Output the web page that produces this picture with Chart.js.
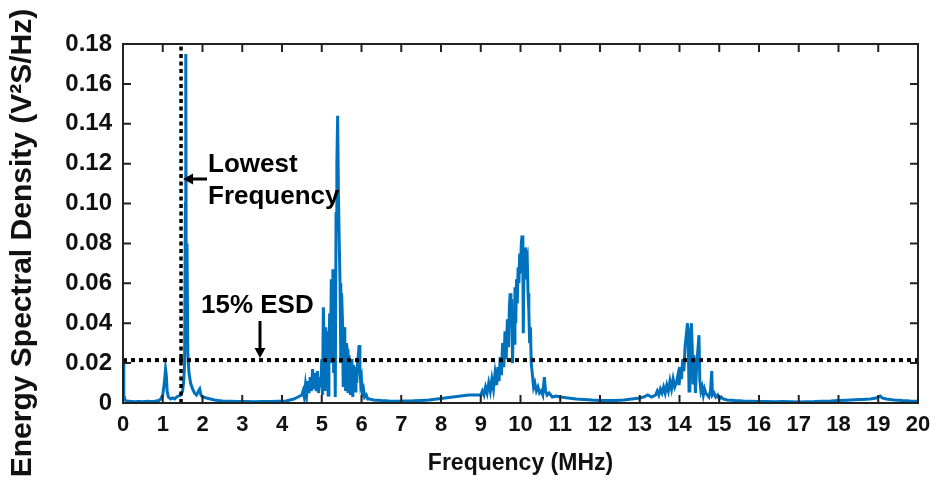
<!DOCTYPE html>
<html>
<head>
<meta charset="utf-8">
<script src="https://cdn.jsdelivr.net/npm/chart.js@4.4.1/dist/chart.umd.min.js"></script>
<style>
  html, body { margin: 0; padding: 0; background: #fff; }
  #wrap { width: 943px; height: 485px; position: relative; }
</style>
</head>
<body>
<div id="wrap"><canvas id="esdChart"></canvas></div>
<script>
// Spectrum, band by band: frequency (MHz) / ESD (V^2 s/Hz)
const lowBandFreq = [
  0.00, 0.02, 0.05, 0.10, 0.20, 0.30, 0.40, 0.50, 0.60, 0.70,
  0.80, 0.90, 0.95, 1.00, 1.04, 1.07, 1.09, 1.11, 1.14, 1.20,
  1.25, 1.30, 1.35, 1.40, 1.45, 1.50, 1.53, 1.55, 1.57, 1.58,
  1.59, 1.61, 1.63, 1.66, 1.70, 1.75, 1.80, 1.85, 1.90, 1.93,
  1.96, 2.00, 2.10, 2.20, 2.30, 2.40, 2.50, 2.70, 2.90, 3.10,
  3.30, 3.50, 3.70, 3.90, 4.10, 4.20, 4.30, 4.40
];
const lowBandEsd = [
  0.020, 0.004, 0.0015, 0.001, 0.0008, 0.0006, 0.0008, 0.0006, 0.0009, 0.0007,
  0.0009, 0.0012, 0.002, 0.004, 0.010, 0.017, 0.014, 0.006, 0.003, 0.002,
  0.0025, 0.002, 0.003, 0.0035, 0.004, 0.006, 0.012, 0.020, 0.100, 0.175,
  0.060, 0.080, 0.025, 0.015, 0.010, 0.007, 0.005, 0.004, 0.006, 0.007,
  0.004, 0.003, 0.0025, 0.002, 0.0015, 0.0012, 0.001, 0.0009, 0.0007, 0.0008,
  0.0006, 0.0008, 0.0007, 0.0009, 0.001, 0.0015, 0.002, 0.003
];
const band5Freq = [
  4.50, 4.53, 4.56, 4.59, 4.62, 4.65, 4.68, 4.71, 4.74, 4.77,
  4.80, 4.83, 4.86, 4.89, 4.92, 4.95, 4.98, 5.00, 5.02, 5.04,
  5.06, 5.08, 5.10, 5.12, 5.14, 5.16, 5.18, 5.20, 5.22, 5.24,
  5.26, 5.28, 5.30, 5.32, 5.34, 5.36, 5.38, 5.40, 5.42, 5.44,
  5.46, 5.48, 5.50, 5.52, 5.54, 5.56, 5.58, 5.60, 5.62, 5.64,
  5.66, 5.68, 5.70, 5.72, 5.74, 5.76, 5.78, 5.80, 5.82, 5.84,
  5.86, 5.88, 5.90, 5.92, 5.94, 5.96, 5.98, 6.00, 6.02, 6.05,
  6.08, 6.12, 6.16, 6.20
];
const band5Esd = [
  0.004, 0.006, 0.003, 0.009, 0.004, 0.011, 0.005, 0.013, 0.006, 0.017,
  0.007, 0.015, 0.006, 0.016, 0.005, 0.013, 0.008, 0.022, 0.004, 0.048,
  0.030, 0.006, 0.038, 0.010, 0.036, 0.004, 0.025, 0.045, 0.020, 0.062,
  0.040, 0.067, 0.015, 0.055, 0.003, 0.095, 0.120, 0.144, 0.105, 0.080,
  0.060, 0.020, 0.055, 0.042, 0.008, 0.038, 0.032, 0.006, 0.030, 0.027,
  0.005, 0.024, 0.020, 0.004, 0.022, 0.017, 0.003, 0.019, 0.014, 0.006,
  0.018, 0.010, 0.020, 0.024, 0.029, 0.018, 0.010, 0.012, 0.005, 0.007,
  0.003, 0.004, 0.002, 0.002
];
const midBandFreq = [6.30, 6.50, 6.70, 6.90, 7.10, 7.30, 7.50, 7.70, 7.90, 8.10, 8.30, 8.50, 8.70, 8.90];
const midBandEsd = [0.0015, 0.0012, 0.001, 0.0009, 0.001, 0.0011, 0.0013, 0.0015, 0.002, 0.0025, 0.003, 0.0035, 0.004, 0.004];
const band10Freq = [
  9.00, 9.04, 9.08, 9.12, 9.16, 9.20, 9.24, 9.28, 9.32, 9.36,
  9.40, 9.43, 9.46, 9.49, 9.52, 9.55, 9.58, 9.61, 9.64, 9.67,
  9.70, 9.72, 9.74, 9.76, 9.78, 9.80, 9.82, 9.84, 9.86, 9.88,
  9.90, 9.92, 9.94, 9.96, 9.98, 10.00, 10.02, 10.04, 10.06, 10.07,
  10.09, 10.11, 10.13, 10.15, 10.17, 10.19, 10.21, 10.23, 10.25, 10.27,
  10.30, 10.33, 10.36, 10.40, 10.44, 10.48, 10.52, 10.56, 10.60, 10.63,
  10.67, 10.72, 10.80
];
const band10Esd = [
  0.004, 0.006, 0.004, 0.008, 0.005, 0.010, 0.006, 0.012, 0.007, 0.015,
  0.009, 0.018, 0.011, 0.023, 0.014, 0.030, 0.018, 0.036, 0.022, 0.042,
  0.028, 0.048, 0.055, 0.040, 0.052, 0.020, 0.045, 0.030, 0.058, 0.040,
  0.062, 0.050, 0.068, 0.060, 0.075, 0.065, 0.080, 0.084, 0.070, 0.035,
  0.075, 0.062, 0.078, 0.070, 0.072, 0.055, 0.046, 0.030, 0.038, 0.020,
  0.014, 0.008, 0.010, 0.006, 0.008, 0.005, 0.006, 0.004, 0.013, 0.006,
  0.004, 0.005, 0.003
];
const gapBandFreq = [10.90, 11.00, 11.20, 11.40, 11.60, 11.80, 12.00, 12.20, 12.40, 12.60, 12.80, 13.00, 13.10, 13.20, 13.30];
const gapBandEsd = [0.0035, 0.003, 0.0025, 0.002, 0.0018, 0.0015, 0.0013, 0.0012, 0.0012, 0.0015, 0.002, 0.0025, 0.003, 0.004, 0.003];
const band14Freq = [
  13.40, 13.44, 13.48, 13.52, 13.56, 13.60, 13.64, 13.68, 13.72, 13.76,
  13.80, 13.84, 13.88, 13.92, 13.96, 13.99, 14.02, 14.05, 14.08, 14.11,
  14.14, 14.17, 14.20, 14.22, 14.24, 14.26, 14.28, 14.30, 14.32, 14.34,
  14.36, 14.38, 14.40, 14.43, 14.46, 14.49, 14.51, 14.54, 14.57, 14.60,
  14.63, 14.66, 14.70, 14.74, 14.78, 14.81, 14.83, 14.87, 14.91, 14.96,
  15.00, 15.05, 15.10, 15.20
];
const band14Esd = [
  0.004, 0.006, 0.004, 0.007, 0.005, 0.008, 0.005, 0.009, 0.006, 0.011,
  0.007, 0.012, 0.008, 0.010, 0.014, 0.009, 0.018, 0.012, 0.022, 0.016,
  0.028, 0.034, 0.040, 0.030, 0.006, 0.032, 0.036, 0.040, 0.028, 0.010,
  0.024, 0.020, 0.005, 0.018, 0.026, 0.034, 0.012, 0.006, 0.008, 0.004,
  0.007, 0.005, 0.004, 0.003, 0.006, 0.016, 0.004, 0.005, 0.003, 0.004,
  0.002, 0.003, 0.002, 0.0015
];
const tailFreq = [15.40, 15.60, 15.80, 16.00, 16.20, 16.40, 16.60, 16.80, 17.00, 17.20, 17.40, 17.60, 17.80, 18.00, 18.20, 18.40, 18.60, 18.80, 18.95, 19.00, 19.05, 19.10, 19.20, 19.40, 19.60, 19.80, 20.00];
const tailEsd = [0.0012, 0.001, 0.0009, 0.0008, 0.0007, 0.0006, 0.0007, 0.0006, 0.0005, 0.0006, 0.0007, 0.0009, 0.001, 0.0012, 0.0014, 0.0016, 0.0018, 0.002, 0.0025, 0.003, 0.0035, 0.0025, 0.002, 0.0015, 0.0012, 0.001, 0.0009];

const xTickLabels = ["0","1","2","3","4","5","6","7","8","9","10","11","12","13","14","15","16","17","18","19","20"];
const yTickLabels = ["0","0.02","0.04","0.06","0.08","0.10","0.12","0.14","0.16","0.18"];

const lowestFreqMHz = 1.46;   // vertical dotted marker
const esdThreshold = 0.0215;  // 15% ESD level

const freqMHz = [].concat(lowBandFreq, band5Freq, midBandFreq, band10Freq, gapBandFreq, band14Freq, tailFreq);
const esdValues = [].concat(lowBandEsd, band5Esd, midBandEsd, band10Esd, gapBandEsd, band14Esd, tailEsd);

const FONT = "'Liberation Sans', Arial, sans-serif";
const BOX = { left: 123, top: 44, right: 918, bottom: 403 };

function arrow(ctx, x1, y1, x2, y2, head) {
  const a = Math.atan2(y2 - y1, x2 - x1);
  ctx.beginPath();
  ctx.moveTo(x1, y1);
  ctx.lineTo(x2 - Math.cos(a) * head * 0.8, y2 - Math.sin(a) * head * 0.8);
  ctx.lineWidth = 3;
  ctx.stroke();
  ctx.beginPath();
  ctx.moveTo(x2, y2);
  ctx.lineTo(x2 - head * Math.cos(a) + head * 0.55 * Math.sin(a), y2 - head * Math.sin(a) - head * 0.55 * Math.cos(a));
  ctx.lineTo(x2 - head * Math.cos(a) - head * 0.55 * Math.sin(a), y2 - head * Math.sin(a) + head * 0.55 * Math.cos(a));
  ctx.closePath();
  ctx.fill();
}

const frameAndNotes = {
  id: "frameAndNotes",
  afterDraw(chart) {
    const ctx = chart.ctx;
    const xs = chart.scales.x, ys = chart.scales.y;
    const L = xs.left, R = xs.right, T = ys.top, B = ys.bottom;
    ctx.save();
    ctx.strokeStyle = "#222";
    ctx.fillStyle = "#000";
    ctx.lineWidth = 2;
    ctx.strokeRect(L, T, R - L, B - T);
    // inward ticks on all four sides
    const tk = 8;
    ctx.beginPath();
    xs.ticks.forEach((t) => {
      const px = xs.getPixelForValue(t.value);
      ctx.moveTo(px, B); ctx.lineTo(px, B - tk);
      ctx.moveTo(px, T); ctx.lineTo(px, T + tk);
    });
    ys.ticks.forEach((t) => {
      const py = ys.getPixelForValue(t.value);
      ctx.moveTo(L, py); ctx.lineTo(L + tk, py);
      ctx.moveTo(R, py); ctx.lineTo(R - tk, py);
    });
    ctx.stroke();

    // axis titles
    ctx.fillStyle = "#111";
    ctx.textAlign = "center";
    ctx.textBaseline = "alphabetic";
    ctx.font = "bold 23px " + FONT;
    ctx.fillText("Frequency (MHz)", (L + R) / 2, 470);
    ctx.save();
    ctx.translate(31, 243);
    ctx.rotate(-Math.PI / 2);
    ctx.font = "bold 30px " + FONT;
    ctx.fillText("Energy Spectral Density (V\u00B2S/Hz)", 0, 0);
    ctx.restore();

    // annotations
    ctx.fillStyle = "#000";
    ctx.strokeStyle = "#000";
    ctx.textAlign = "left";
    ctx.font = "bold 26px " + FONT;
    ctx.fillText("Lowest", 208, 172);
    ctx.fillText("Frequency", 208, 204);
    ctx.fillText("15% ESD", 201, 313);
    arrow(ctx, 207, 179, xs.getPixelForValue(lowestFreqMHz) + 2, 179, 10);
    arrow(ctx, 260, 321, 260, ys.getPixelForValue(esdThreshold) - 2, 10);
    ctx.restore();
  },
};

const spectrum = freqMHz.map((f, i) => ({ x: f, y: esdValues[i] }));

new Chart(document.getElementById("esdChart"), {
  type: "line",
  data: {
    datasets: [
      {
        data: [{ x: 0, y: esdThreshold }, { x: 20, y: esdThreshold }],
        borderColor: "#000",
        borderWidth: 4,
        borderDash: [4, 4],
        borderCapStyle: "butt",
        pointRadius: 0,
        order: 0,
      },
      {
        data: [{ x: lowestFreqMHz, y: 0 }, { x: lowestFreqMHz, y: 0.18 }],
        borderColor: "#000",
        borderWidth: 3.5,
        borderDash: [4, 3.5],
        borderCapStyle: "butt",
        pointRadius: 0,
        order: 0,
      },
      {
        data: spectrum,
        borderColor: "#0072BD",
        borderWidth: 3,
        pointRadius: 0,
        tension: 0,
        order: 1,
      },
    ],
  },
  options: {
    responsive: true,
    maintainAspectRatio: false,
    animation: false,
    layout: { padding: { left: 0, top: BOX.top, right: 943 - BOX.right, bottom: 0 } },
    plugins: { legend: { display: false }, tooltip: { enabled: false } },
    scales: {
      x: {
        type: "linear",
        min: 0,
        max: 20,
        afterFit: (s) => { s.height = 485 - BOX.bottom; },
        grid: { display: false, drawTicks: false },
        border: { display: false },
        ticks: {
          stepSize: 1,
          padding: 9,
          maxRotation: 0,
          autoSkip: false,
          color: "#111",
          font: { family: FONT, size: 22, weight: "bold" },
          callback: (v, i) => xTickLabels[i],
        },
      },
      y: {
        type: "linear",
        min: 0,
        max: 0.18,
        afterFit: (s) => { s.width = BOX.left; },
        grid: { display: false, drawTicks: false },
        border: { display: false },
        ticks: {
          stepSize: 0.02,
          padding: 11,
          color: "#111",
          font: { family: FONT, size: 24, weight: "bold" },
          callback: (v, i) => yTickLabels[i],
        },
      },
    },
  },
  plugins: [frameAndNotes],
});
</script>
</body>
</html>
